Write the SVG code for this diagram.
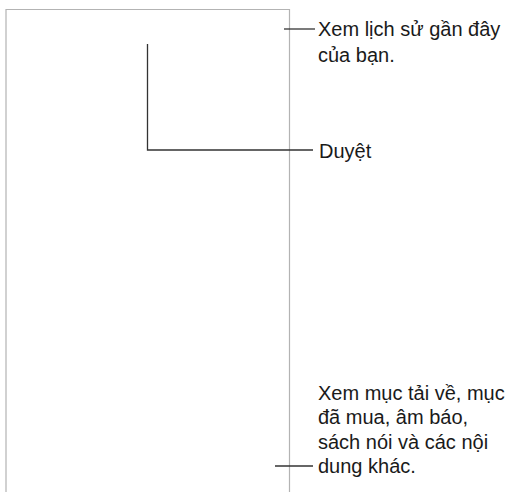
<svg xmlns="http://www.w3.org/2000/svg" width="508" height="492" viewBox="0 0 508 492">
<style>
.t{font-family:"Liberation Sans",Arial,sans-serif;font-size:20px;fill:#1a1a1a}
.c{stroke:#333;stroke-width:1.3;fill:none}
.f{stroke:#b3b3b3;stroke-width:1.2;fill:none}
</style>
<rect width="508" height="492" fill="#fff"/>
<g id="frame"><path class="f" d="M6,500 V9.5 H289.5 V500"/></g>
<g id="connectors">
<path class="c" d="M284,29 H315"/>
<path class="c" d="M147.5,44 V150 H313"/>
<path class="c" d="M275,466 H313"/>
</g>
<g id="label-history"><text class="t" x="318" y="36">Xem lịch sử gần đây</text><text class="t" x="318" y="62">của bạn.</text></g>
<g id="label-browse"><text class="t" x="319" y="158">Duyệt</text></g>
<g id="label-library"><text class="t" x="318" y="399.5">Xem mục tải về, mục</text><text class="t" x="318" y="424">đã mua, âm báo,</text><text class="t" x="318" y="448.5">sách nói và các nội</text><text class="t" x="318" y="473">dung khác.</text></g>
</svg>
